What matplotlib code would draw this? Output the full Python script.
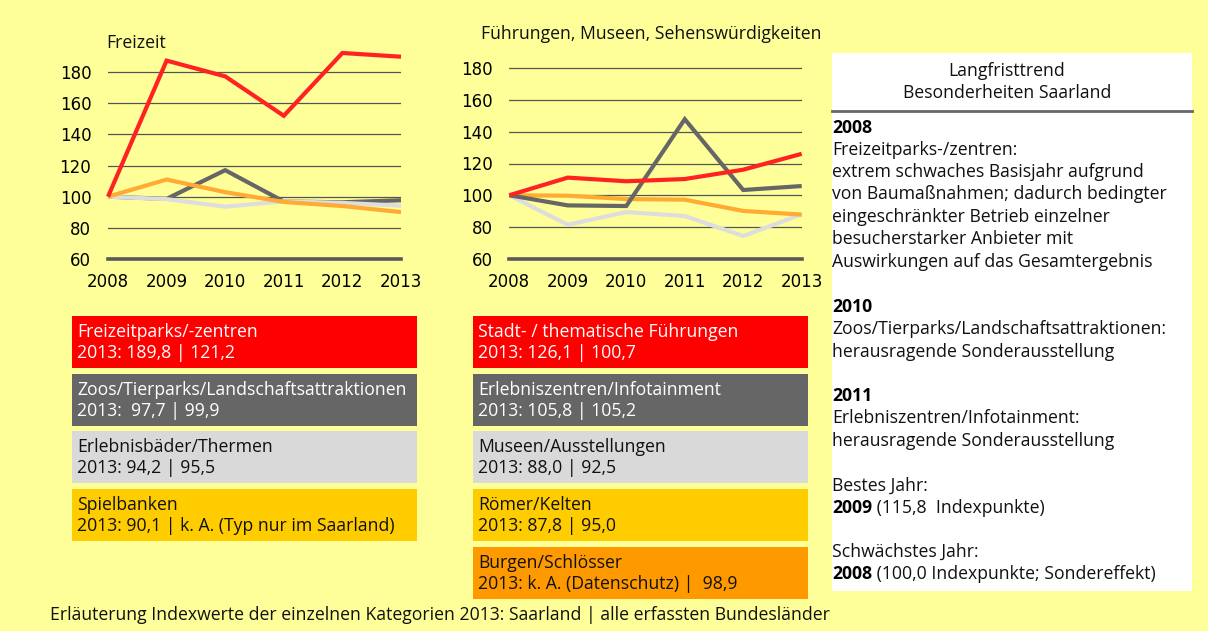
import matplotlib
matplotlib.use("Agg")
import matplotlib.pyplot as plt
from matplotlib.patches import Rectangle

plt.rcParams['font.family'] = ['Open Sans', 'DejaVu Sans']

# ---------------- data ----------------
years = [2008, 2009, 2010, 2011, 2012, 2013]
yticks = [60, 80, 100, 120, 140, 160, 180]

# Freizeit
freizeitparks = [100, 187.3, 177.2, 151.9, 192.2, 189.8]
zoos = [100, 98.6, 117.0, 96.9, 96.4, 97.7]
erlebnisbaeder = [100, 98.4, 93.6, 97.0, 96.0, 94.2]
spielbanken = [100, 111.0, 102.9, 96.6, 94.0, 90.1]

# Führungen, Museen, Sehenswürdigkeiten
fuehrungen = [100, 111.1, 108.8, 110.2, 116.1, 126.1]
erlebniszentren = [100, 93.6, 93.2, 147.9, 103.3, 105.8]
museen = [100, 81.4, 89.4, 86.9, 74.3, 88.0]
roemer = [100, 99.7, 97.6, 97.2, 90.1, 87.8]

left_title = "Freizeit"
mid_title = "Führungen, Museen, Sehenswürdigkeiten"

left_labels = [
    ("Freizeitparks/-zentren", "2013: 189,8 | 121,2"),
    ("Zoos/Tierparks/Landschaftsattraktionen", "2013:  97,7 | 99,9"),
    ("Erlebnisbäder/Thermen", "2013: 94,2 | 95,5"),
    ("Spielbanken", "2013: 90,1 | k. A. (Typ nur im Saarland)"),
]
mid_labels = [
    ("Stadt- / thematische Führungen", "2013: 126,1 | 100,7"),
    ("Erlebniszentren/Infotainment", "2013: 105,8 | 105,2"),
    ("Museen/Ausstellungen", "2013: 88,0 | 92,5"),
    ("Römer/Kelten", "2013: 87,8 | 95,0"),
    ("Burgen/Schlösser", "2013: k. A. (Datenschutz) |  98,9"),
]

footer = "Erläuterung Indexwerte der einzelnen Kategorien 2013: Saarland | alle erfassten Bundesländer"

# ---------------- styles ----------------
BG = '#FFFF99'
C_RED = '#FF0000'
C_DARK = '#666666'
C_LIGHT = '#D9D9D9'
C_GOLD = '#FFCC00'
C_ORANGE = '#FF9900'
L_RED = '#FF2222'
L_DARK = '#666666'
L_LIGHT = '#DDDDDD'
L_ORANGE = '#FFAA33'
FS = 12.7
TICKFONT = ['DejaVu Sans']

W, H = 1208, 631
fig = plt.figure(figsize=(W / 100, H / 100), dpi=100)
fig.patch.set_facecolor(BG)

# overlay axes in pixel coordinates
ov = fig.add_axes([0, 0, 1, 1])
ov.set_xlim(0, W)
ov.set_ylim(H, 0)
ov.axis('off')
ov.patch.set_alpha(0)


def make_chart(x0, x1, y60, y180, series, colors, title, title_xy, ylabpad):
    ppu = (y60 - y180) / 120.0
    ytop = y180 - 20 * ppu
    ax = fig.add_axes([x0 / W, 1 - y60 / H, (x1 - x0) / W, (y60 - ytop) / H])
    ax.set_xlim(2008, 2013)
    ax.set_ylim(60, 200)
    ax.patch.set_alpha(0)
    for s in ax.spines.values():
        s.set_visible(False)
    for v in yticks[1:]:
        ax.axhline(v, color='#555555', lw=0.9, zorder=1)
    ax.axhline(60, color='#595959', lw=2.6, zorder=1, clip_on=False)
    for vals, c in zip(series, colors):
        ax.plot(years, vals, color=c, lw=3.0, solid_capstyle='butt',
                solid_joinstyle='miter', clip_on=False, zorder=3)
    ax.set_yticks(yticks)
    ax.set_yticklabels([str(v) for v in yticks], family=TICKFONT, fontsize=12)
    ax.set_xticks(years)
    ax.set_xticklabels([str(y) for y in years], family=TICKFONT, fontsize=12)
    ax.tick_params(axis='y', length=0, pad=ylabpad)
    ax.tick_params(axis='x', length=0, pad=10)
    ov.text(title_xy[0], title_xy[1], title, fontsize=FS, va='center', ha='left', color='#111111')
    return ax


make_chart(108, 401, 259, 72,
           [zoos, erlebnisbaeder, spielbanken, freizeitparks],
           [L_DARK, L_LIGHT, L_ORANGE, L_RED],
           left_title, (106, 43), 12)
make_chart(509.3, 801.7, 258.7, 68.3,
           [museen, roemer, erlebniszentren, fuehrungen],
           [L_LIGHT, L_ORANGE, L_DARK, L_RED],
           mid_title, (481, 34), 12)


def boxes(x0, x1, tops, labels, colors, txtcolors, height=52):
    for top, (l1, l2), c, tc in zip(tops, labels, colors, txtcolors):
        ov.add_patch(Rectangle((x0, top), x1 - x0, height, facecolor=c, edgecolor='none'))
        ov.text(x0 + 5, top + 16, l1, fontsize=FS, color=tc, va='center', ha='left')
        ov.text(x0 + 5, top + 37, l2, fontsize=FS, color=tc, va='center', ha='left')


boxes(72, 417, [316, 374, 431, 489], left_labels,
      [C_RED, C_DARK, C_LIGHT, C_GOLD], ['white', 'white', '#111111', '#111111'])
boxes(473, 808, [316, 374, 431, 489, 547], mid_labels,
      [C_RED, C_DARK, C_LIGHT, C_GOLD, C_ORANGE],
      ['white', 'white', '#111111', '#111111', '#111111'])

# right panel
ov.add_patch(Rectangle((832, 53), 1192 - 832, 591 - 53, facecolor='white', edgecolor='none'))
ov.text(1007, 71, "Langfristtrend", fontsize=FS, ha='center', va='center', color='#111111')
ov.text(1007, 93, "Besonderheiten Saarland", fontsize=FS, ha='center', va='center', color='#111111')
ov.plot([832, 1192], [111, 111], color='#666666', lw=2)

tx = 832
panel_lines = [
    (128, "2008", None),
    (150, None, "Freizeitparks-/zentren:"),
    (172, None, "extrem schwaches Basisjahr aufgrund"),
    (194, None, "von Baumaßnahmen; dadurch bedingter"),
    (217, None, "eingeschränkter Betrieb einzelner"),
    (239, None, "besucherstarker Anbieter mit"),
    (262, None, "Auswirkungen auf das Gesamtergebnis"),
    (307, "2010", None),
    (329, None, "Zoos/Tierparks/Landschaftsattraktionen:"),
    (352, None, "herausragende Sonderausstellung"),
    (396, "2011", None),
    (418, None, "Erlebniszentren/Infotainment:"),
    (441, None, "herausragende Sonderausstellung"),
    (486, None, "Bestes Jahr:"),
    (508, "2009", " (115,8  Indexpunkte)"),
    (552, None, "Schwächstes Jahr:"),
    (574, "2008", " (100,0 Indexpunkte; Sondereffekt)"),
]
for y, b, n in panel_lines:
    if b is not None:
        bt = ov.text(tx, y, b, fontsize=FS, fontweight='bold', ha='left', va='center', color='black')
        if n is not None:
            ov.annotate(n, xy=(1, 0.5), xycoords=bt, ha='left', va='center',
                        fontsize=FS, color='#111111')
    else:
        ov.text(tx, y, n, fontsize=FS, ha='left', va='center', color='#111111')

ov.text(50, 615, footer, fontsize=FS, ha='left', va='center', color='#111111')

fig.savefig('out.png', dpi=100, facecolor=BG)
